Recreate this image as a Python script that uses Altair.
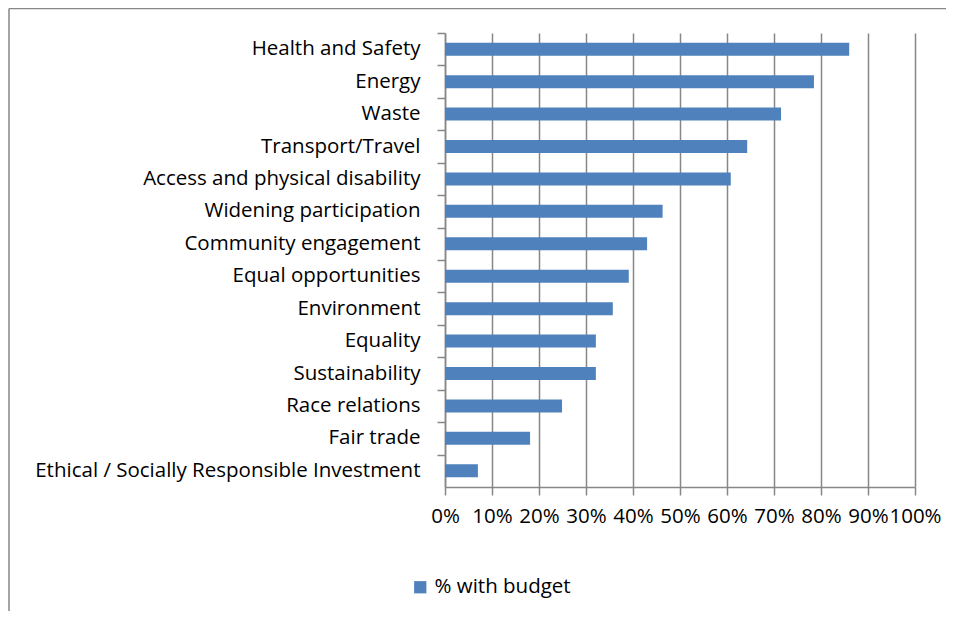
import altair as alt
import pandas as pd

categories = [
    "Health and Safety", "Energy", "Waste", "Transport/Travel",
    "Access and physical disability", "Widening participation",
    "Community engagement", "Equal opportunities", "Environment",
    "Equality", "Sustainability", "Race relations", "Fair trade",
    "Ethical / Socially Responsible Investment",
]
values = [0.86, 0.785, 0.715, 0.643, 0.608, 0.463, 0.43, 0.391, 0.357,
          0.321, 0.321, 0.249, 0.181, 0.07]
series_name = "% with budget"
x_ticks = [0.0, 0.1, 0.2, 0.3, 0.4, 0.5, 0.6, 0.7, 0.8, 0.9, 1.0]

df = pd.DataFrame({"category": categories, "value": values,
                   "series": [series_name] * len(categories)})

W, H = 470, 454
FONT = "Open Sans"
FS = 20.5
GRID = "#878787"
BLUE = "#4F81BD"
step = H / len(categories)

yscale = alt.Scale(paddingInner=0.6, paddingOuter=0.3)

bars = alt.Chart(df).mark_bar(color=BLUE).encode(
    x=alt.X("value:Q", scale=alt.Scale(domain=[0, 1]),
            axis=alt.Axis(values=x_ticks, format=".0%", title=None,
                          grid=True, gridColor=GRID, gridWidth=1.5,
                          tickSize=8, tickColor=GRID, tickWidth=1.5,
                          domainColor=GRID, domainWidth=1.5,
                          labelPadding=11, labelFontSize=FS, labelFont=FONT,
                          labelColor="#000", labelOverlap=False,
                          labelFlush=False)),
    y=alt.Y("category:N", sort=categories, scale=yscale,
            axis=alt.Axis(title=None, ticks=False, labelPadding=25,
                          labelFontSize=FS, labelFont=FONT, labelColor="#000",
                          domainColor=GRID, domainWidth=1.5, labelLimit=600,
                          orient="left")),
    color=alt.Color("series:N", scale=alt.Scale(range=[BLUE]),
                    legend=alt.Legend(title=None, orient="none",
                                      legendX=-35, legendY=544,
                                      symbolType="square", symbolSize=150,
                                      symbolStrokeWidth=0,
                                      labelFontSize=FS, labelFont=FONT,
                                      labelColor="#000", padding=0)),
)

tick_layer = alt.Chart(df).mark_bar(opacity=0).encode(
    x=alt.value(0),
    y=alt.Y("category:N", sort=categories, scale=yscale,
            axis=alt.Axis(title=None, labels=False, domain=False,
                          ticks=True, tickSize=8, tickColor=GRID,
                          tickWidth=1.5, bandPosition=0,
                          tickOffset=-0.3 * step, orient="left")),
)

frame_src = alt.Data(values=[{"k": 1}])
frame_top = alt.Chart(frame_src).mark_rule(color=GRID, strokeWidth=1.5).encode(
    x=alt.value(-436), x2=alt.value(W + 40), y=alt.value(-24.5))
frame_left = alt.Chart(frame_src).mark_rule(color=GRID, strokeWidth=1.5).encode(
    x=alt.value(-436), y=alt.value(-24.5), y2=alt.value(H + 130))

chart = alt.layer(bars, tick_layer, frame_top, frame_left).resolve_axis(
    y="independent"
).properties(
    width=W, height=H,
    autosize=alt.AutoSizeParams(type="none"),
    padding={"left": 437, "top": 25, "right": 31, "bottom": 124},
).configure_view(stroke=None)

chart.save("out.html", embed_options={"renderer": "svg", "actions": False})
